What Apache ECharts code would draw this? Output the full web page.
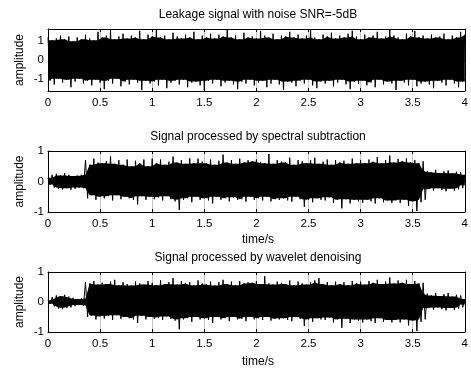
<!DOCTYPE html>
<html>
<head>
<meta charset="utf-8">
<script src="https://cdn.jsdelivr.net/npm/echarts@6/dist/echarts.min.js"></script>
<style>
  html, body { margin: 0; padding: 0; background: #fff; }
  #chart { width: 471px; height: 369px; }
</style>
</head>
<body>
<div id="chart"></div>
<script>
// sample step of the envelope readings (s), 0..4 s
const T_STEP = 0.04;

// panel 1: noisy leakage signal, upper / lower peaks
const noisyHi = [
  1.20, 1.05, 1.15, 1.30, 1.10, 1.25, 1.00, 1.20, 1.10, 1.35,
  1.15, 1.05, 1.50, 1.20, 1.30, 1.60, 1.10, 1.25, 1.40, 1.15,
  1.30, 1.20, 1.55, 1.10, 1.35, 1.25, 1.60, 1.20, 1.30, 1.10,
  1.45, 1.25, 1.15, 1.35, 1.20, 1.50, 1.10, 1.30, 1.20, 1.40,
  1.15, 1.35, 1.25, 1.60, 1.20, 1.30, 1.10, 1.45, 1.20, 1.25,
  1.15, 1.55, 1.30, 1.20, 1.40, 1.10, 1.30, 1.25, 1.50, 1.20,
  1.35, 1.15, 1.30, 1.60, 1.20, 1.10, 1.35, 1.25, 1.45, 1.15,
  1.30, 1.20, 1.40, 1.55, 1.25, 1.10, 1.35, 1.20, 1.30, 1.50,
  1.15, 1.25, 1.60, 1.30, 1.20, 1.10, 1.40, 1.25, 1.55, 1.20,
  1.30, 1.15, 1.35, 1.20, 1.25, 1.40, 1.10, 1.30, 1.20, 1.50,
  1.35
];
const noisyLo = [
  -1.10, -1.30, -1.00, -1.20, -1.05, -1.45, -1.15, -1.00, -1.25, -1.10,
  -1.35, -1.05, -1.20, -1.55, -1.10, -1.25, -1.00, -1.40, -1.15, -1.30,
  -1.05, -1.20, -1.60, -1.10, -1.25, -1.15, -1.35, -1.05, -1.50, -1.20,
  -1.10, -1.30, -1.05, -1.45, -1.20, -1.15, -1.35, -1.60, -1.10, -1.25,
  -1.05, -1.40, -1.20, -1.10, -1.30, -1.55, -1.15, -1.25, -1.05, -1.35,
  -1.20, -1.10, -1.45, -1.25, -1.05, -1.30, -1.60, -1.15, -1.20, -1.40,
  -1.10, -1.25, -1.05, -1.35, -1.50, -1.15, -1.25, -1.10, -1.40, -1.20,
  -1.05, -1.30, -1.55, -1.15, -1.25, -1.10, -1.35, -1.20, -1.45, -1.05,
  -1.30, -1.15, -1.25, -1.60, -1.10, -1.20, -1.35, -1.05, -1.40, -1.25,
  -1.15, -1.30, -1.50, -1.10, -1.20, -1.35, -1.05, -1.25, -1.45, -1.15,
  -1.20
];

// panel 2: spectral subtraction
const spectralHi = [
  0.12, 0.22, 0.25, 0.20, 0.27, 0.22, 0.18, 0.20, 0.22, 0.70,
  0.55, 0.75, 0.62, 0.60, 0.66, 0.82, 0.58, 0.70, 0.55, 0.72,
  0.50, 0.68, 0.60, 0.72, 0.50, 0.75, 0.60, 0.72, 0.55, 0.65,
  0.82, 0.62, 0.70, 0.58, 0.76, 0.60, 0.75, 0.65, 0.60, 0.72,
  0.55, 0.68, 0.88, 0.62, 0.70, 0.58, 0.75, 0.62, 0.70, 0.66,
  0.72, 0.64, 0.60, 0.90, 0.58, 0.70, 0.65, 0.62, 0.78, 0.55,
  0.70, 0.66, 0.60, 0.70, 0.78, 0.58, 0.65, 0.72, 0.55, 0.70,
  0.62, 0.68, 0.58, 0.75, 0.60, 0.70, 0.60, 0.72, 0.65, 0.80,
  0.60, 0.70, 0.85, 0.62, 0.74, 0.66, 0.76, 0.62, 0.70, 0.60,
  0.66, 0.35, 0.30, 0.38, 0.28, 0.33, 0.36, 0.27, 0.32, 0.30,
  0.22
];
const spectralLo = [
  -0.10, -0.20, -0.24, -0.26, -0.22, -0.27, -0.24, -0.20, -0.22, -0.55,
  -0.45, -0.60, -0.50, -0.55, -0.48, -0.62, -0.45, -0.58, -0.50, -0.55,
  -0.60, -0.75, -0.48, -0.60, -0.50, -0.58, -0.52, -0.62, -0.48, -0.58,
  -0.65, -0.93, -0.60, -0.55, -0.68, -0.50, -0.60, -0.55, -0.62, -0.72,
  -0.50, -0.60, -0.55, -0.65, -0.52, -0.60, -0.58, -0.66, -0.50, -0.60,
  -0.55, -0.62, -0.50, -0.65, -0.58, -0.60, -0.55, -0.62, -0.66, -0.50,
  -0.58, -0.83, -0.60, -0.68, -0.55, -0.60, -0.62, -0.52, -0.70, -0.60,
  -0.88, -0.58, -0.72, -0.60, -0.65, -0.70, -0.60, -0.65, -0.72, -0.55,
  -0.68, -0.62, -0.70, -0.62, -0.70, -0.60, -0.80, -0.65, -0.97, -0.68,
  -0.60, -0.25, -0.30, -0.22, -0.28, -0.32, -0.24, -0.30, -0.26, -0.22,
  -0.12
];

// panel 3: wavelet denoising
const waveletHi = [
  0.06, 0.16, 0.22, 0.20, 0.24, 0.18, 0.14, 0.10, 0.12, 0.66,
  0.62, 0.70, 0.58, 0.64, 0.60, 0.68, 0.74, 0.56, 0.66, 0.60,
  0.55, 0.68, 0.62, 0.58, 0.70, 0.64, 0.56, 0.72, 0.60, 0.66,
  0.80, 0.58, 0.70, 0.62, 0.66, 0.56, 0.72, 0.62, 0.58, 0.68,
  0.55, 0.66, 0.74, 0.60, 0.68, 0.56, 0.70, 0.62, 0.66, 0.64,
  0.70, 0.60, 0.86, 0.62, 0.58, 0.68, 0.64, 0.60, 0.72, 0.56,
  0.68, 0.62, 0.58, 0.66, 0.72, 0.80, 0.60, 0.66, 0.56, 0.68,
  0.60, 0.66, 0.56, 0.70, 0.62, 0.68, 0.58, 0.70, 0.64, 0.74,
  0.60, 0.68, 0.82, 0.62, 0.72, 0.64, 0.74, 0.60, 0.70, 0.62,
  0.64, 0.28, 0.22, 0.30, 0.20, 0.26, 0.30, 0.18, 0.24, 0.22,
  0.10
];
const waveletLo = [
  -0.06, -0.15, -0.22, -0.24, -0.20, -0.18, -0.14, -0.10, -0.12, -0.50,
  -0.45, -0.58, -0.48, -0.55, -0.46, -0.60, -0.44, -0.56, -0.50, -0.54,
  -0.58, -0.70, -0.46, -0.58, -0.50, -0.56, -0.52, -0.60, -0.48, -0.56,
  -0.62, -0.91, -0.58, -0.54, -0.66, -0.50, -0.58, -0.54, -0.60, -0.70,
  -0.50, -0.58, -0.54, -0.64, -0.50, -0.58, -0.56, -0.64, -0.50, -0.58,
  -0.54, -0.60, -0.50, -0.62, -0.56, -0.58, -0.54, -0.60, -0.64, -0.50,
  -0.56, -0.80, -0.58, -0.66, -0.54, -0.58, -0.60, -0.52, -0.68, -0.58,
  -0.86, -0.56, -0.70, -0.58, -0.62, -0.68, -0.58, -0.64, -0.70, -0.54,
  -0.66, -0.60, -0.68, -0.60, -0.68, -0.58, -0.78, -0.62, -0.97, -0.66,
  -0.58, -0.20, -0.26, -0.18, -0.24, -0.28, -0.20, -0.26, -0.22, -0.18,
  -0.08
];

const FONT = "Liberation Sans, Arial, Helvetica, sans-serif";

// peak readings -> signal trace that swings between the two envelopes
function toTrace(hi, lo) {
  const pts = [];
  for (let i = 0; i < hi.length; i++) {
    const t = i * T_STEP;
    pts.push([t, hi[i]]);
    if (i < hi.length - 1) pts.push([t + T_STEP / 2, lo[i]]);
  }
  return pts;
}

// solid part of the band: smallest swing among neighbouring peaks
function core(arr, pick) {
  return arr.map((v, i) => pick(arr[Math.max(0, i - 1)], v, arr[Math.min(arr.length - 1, i + 1)]));
}

const panels = [
  { top: 29, height: 62, yMin: -1.65, yMax: 1.65, hi: noisyHi, lo: noisyLo,
    title: "Leakage signal with noise SNR=-5dB", titleY: 15, xName: null },
  { top: 151, height: 61, yMin: -1, yMax: 1, hi: spectralHi, lo: spectralLo,
    title: "Signal processed by spectral subtraction", titleY: 137, xName: 240 },
  { top: 272, height: 60, yMin: -1, yMax: 1, hi: waveletHi, lo: waveletLo,
    title: "Signal processed by wavelet denoising", titleY: 258, xName: 362 },
];

const LEFT = 48, WIDTH = 420;
const black = { color: "#000", width: 1 };

const grid = [], xAxis = [], yAxis = [], series = [], graphic = [];

panels.forEach((p, gi) => {
  grid.push({ left: LEFT, top: p.top, width: WIDTH, height: p.height });

  // bottom x axis with labels + grey grid lines
  xAxis.push({
    gridIndex: gi, type: "value", min: 0, max: 4, interval: 0.5,
    axisLine: { show: true, onZero: false, lineStyle: black },
    axisTick: { inside: true, length: 3, lineStyle: black },
    axisLabel: { color: "#000", fontSize: 11.5, fontFamily: FONT, margin: 6 },
    splitLine: { show: true, lineStyle: { color: "#c4c4c4", width: 1 } },
  });
  // top x axis, ticks only (box)
  xAxis.push({
    gridIndex: gi, type: "value", min: 0, max: 4, interval: 0.5, position: "top",
    axisLine: { show: true, onZero: false, lineStyle: black },
    axisTick: { inside: true, length: 3, lineStyle: black },
    axisLabel: { show: false }, splitLine: { show: false },
  });
  const yTicks = [-1, 0, 1];
  yAxis.push({
    gridIndex: gi, type: "value", min: p.yMin, max: p.yMax,
    axisLine: { show: true, onZero: false, lineStyle: black },
    axisTick: { inside: true, length: 3, lineStyle: black, customValues: yTicks },
    axisLabel: { color: "#000", fontSize: 11.5, fontFamily: FONT, margin: 4, customValues: yTicks },
    splitLine: { show: false },
  });
  yAxis.push({
    gridIndex: gi, type: "value", min: p.yMin, max: p.yMax, position: "right",
    axisLine: { show: true, onZero: false, lineStyle: black },
    axisTick: { inside: true, length: 3, lineStyle: black, customValues: yTicks },
    axisLabel: { show: false }, splitLine: { show: false },
  });

  // solid core polygon
  const coreHi = core(p.hi, Math.min);
  const coreLo = core(p.lo, Math.max);
  series.push({
    type: "custom", coordinateSystem: "cartesian2d",
    xAxisIndex: gi * 2, yAxisIndex: gi * 2, silent: true,
    data: [[0, 0]],
    renderItem: (params, api) => {
      const top = coreHi.map((v, i) => api.coord([i * T_STEP, v]));
      const bottom = coreLo.map((v, i) => api.coord([i * T_STEP, v])).reverse();
      return { type: "polygon", shape: { points: top.concat(bottom) }, style: { fill: "#000" } };
    },
  });
  // spiky trace on top
  series.push({
    type: "line", xAxisIndex: gi * 2, yAxisIndex: gi * 2,
    data: toTrace(p.hi, p.lo),
    showSymbol: false, clip: true, silent: true,
    lineStyle: { color: "#000", width: 1 },
  });

  const cx = LEFT + WIDTH / 2;
  graphic.push({
    type: "text", x: cx, y: p.titleY,
    style: { text: p.title, fill: "#000", font: "12px " + FONT, textAlign: "center", textVerticalAlign: "middle" },
  });
  graphic.push({
    type: "text", x: 20, y: p.top + p.height / 2, rotation: Math.PI / 2,
    style: { text: "amplitude", fill: "#000", font: "12px " + FONT, textAlign: "center", textVerticalAlign: "middle" },
  });
  if (p.xName) {
    graphic.push({
      type: "text", x: cx, y: p.xName,
      style: { text: "time/s", fill: "#000", font: "12px " + FONT, textAlign: "center", textVerticalAlign: "middle" },
    });
  }
});

const chart = echarts.init(document.getElementById("chart"), null, { renderer: "canvas" });
chart.setOption({
  animation: false,
  backgroundColor: "#fff",
  grid, xAxis, yAxis, series, graphic,
});
</script>
</body>
</html>
